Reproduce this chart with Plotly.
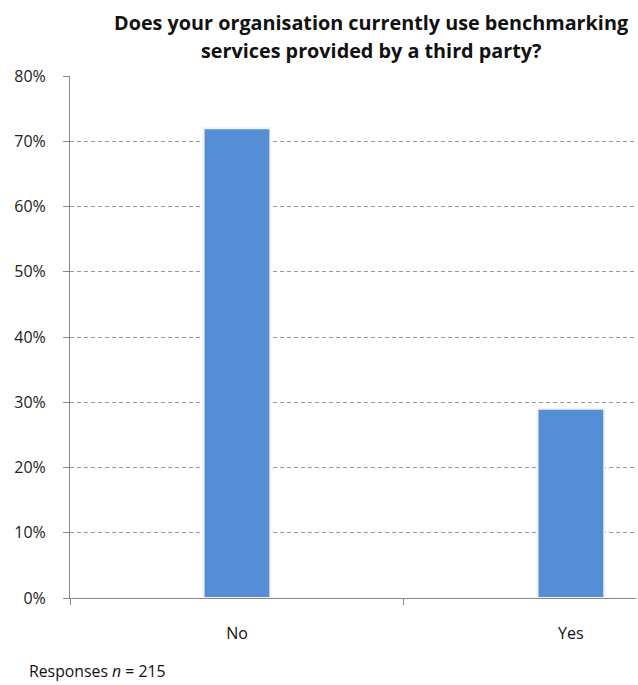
import plotly.graph_objects as go

# Survey answers and share of respondents (%)
answers = ["No", "Yes"]
shares = [72, 29]
y_ticks = [0, 10, 20, 30, 40, 50, 60, 70, 80]
y_tick_labels = [f"{v}%" for v in y_ticks]

title_lines = ["Does your organisation currently use benchmarking",
               "services provided by a third party?"]
footnote = "Responses <i>n</i> = 215"

FONT = "'Open Sans', 'Noto Sans', sans-serif"

# plot area in pixels: x 70..636, y 76..598
PW, PH = 566, 522

fig = go.Figure()
fig.add_trace(go.Bar(
    x=answers,
    y=shares,
    width=0.2,
    marker=dict(color="#558ED5", line=dict(color="#F2F2F2", width=2)),
    hoverinfo="x+y",
))

title_font = dict(size=19.8, family=FONT, color="#111", weight="bold")

fig.update_layout(
    width=638,
    height=685,
    margin=dict(l=70, r=2, t=76, b=87),
    paper_bgcolor="white",
    plot_bgcolor="white",
    showlegend=False,
    font=dict(family=FONT, color="#1a1a1a"),
    annotations=[
        dict(
            text=title_lines[0],
            xref="paper", yref="paper",
            x=(371 - 70) / PW, xanchor="center",
            y=1 + (76 - 22) / PH, yanchor="middle",
            showarrow=False,
            font=title_font,
        ),
        dict(
            text=title_lines[1],
            xref="paper", yref="paper",
            x=(371 - 70) / PW, xanchor="center",
            y=1 + (76 - 50) / PH, yanchor="middle",
            showarrow=False,
            font=title_font,
        ),
        dict(
            text=footnote,
            xref="paper", yref="paper",
            x=(27 - 70) / PW, xanchor="left",
            y=-(671 - 598) / PH, yanchor="middle",
            showarrow=False,
            font=dict(size=15.8, family=FONT, color="#111"),
        ),
    ],
)

fig.update_xaxes(
    type="category",
    range=[-0.5, 1.195],
    tickson="boundaries",
    ticks="outside",
    ticklen=6,
    tickcolor="#888",
    showgrid=False,
    showline=True,
    linecolor="#888",
    linewidth=1,
    tickfont=dict(size=16, family=FONT, color="#111"),
    ticklabelstandoff=21,
)

fig.update_yaxes(
    range=[0, 80],
    tickvals=y_ticks,
    ticktext=y_tick_labels,
    ticks="outside",
    ticklen=6,
    tickcolor="#888",
    showline=True,
    linecolor="#888",
    linewidth=1,
    showgrid=True,
    gridcolor="#999",
    griddash="4px,3px",
    gridwidth=1,
    zeroline=False,
    tickfont=dict(size=16, family=FONT, color="#222"),
    ticklabelstandoff=14,
)

fig.write_html("out.html")
